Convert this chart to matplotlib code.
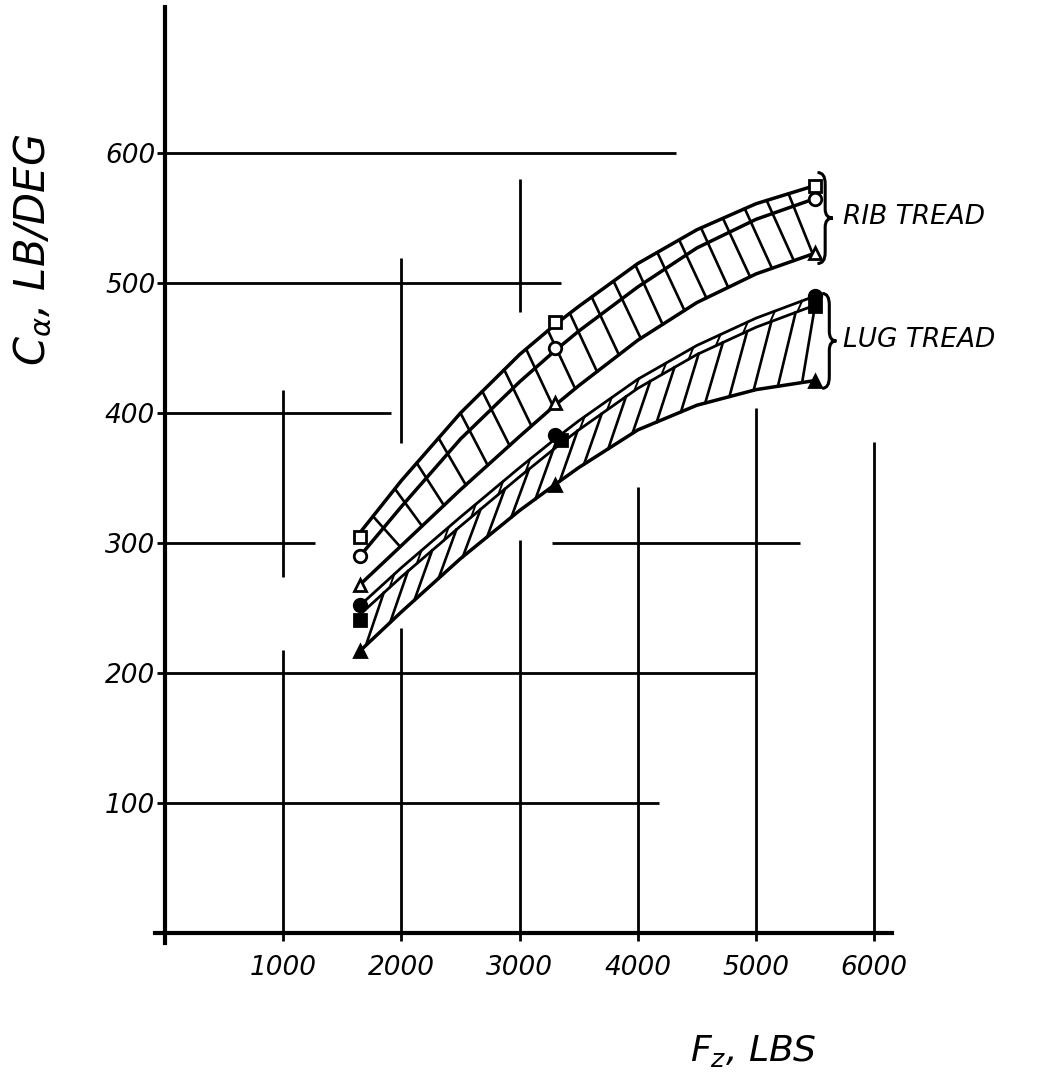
import numpy as np
import matplotlib
matplotlib.use('Agg')
import matplotlib.pyplot as plt
from matplotlib.path import Path
from matplotlib.patches import PathPatch

plt.rcParams['font.family'] = ['DejaVu Sans']
plt.rcParams['mathtext.fontset'] = 'dejavusans'

# marker points (x = vertical load, lb ; y = cornering stiffness, lb/deg)
load_pts = [1650, 3300, 5500]
rib_square = [305, 470, 575]
rib_circle = [290, 450, 565]
rib_triangle = [268, 408, 523]
lug_load_sq = [1650, 3350, 5500]
lug_square = [241, 379, 482]
lug_circle = [252, 383, 490]
lug_triangle = [217, 345, 425]

# band boundaries
curve_x = [1650, 2000, 2500, 3000, 3300, 3500, 4000, 4500, 5000, 5500]
rib_upper = [308, 348, 400, 445, 468, 482, 515, 541, 561, 575]
rib_mid = [290, 328, 380, 424, 448, 463, 497, 527, 549, 565]
rib_lower = [268, 298, 341, 382, 406, 421, 456, 485, 507, 523]
lug_upper = [252, 281, 320, 358, 380, 394, 426, 452, 473, 490]
lug_upper2 = [245, 274, 313, 351, 373, 387, 419, 445, 466, 483]
lug_lower = [217, 247, 288, 325, 345, 358, 387, 406, 418, 425]

xticks = [1000, 2000, 3000, 4000, 5000, 6000]
yticks = [100, 200, 300, 400, 500, 600]

# partial hand-drawn grid segments: (value, start, end)
h_segments = [(600, 0, 4320), (500, 0, 3350), (400, 0, 1910), (300, 0, 1270),
              (300, 3270, 5370), (200, 0, 5000), (100, 0, 4180)]
v_segments = [(1000, 274, 418), (1000, 0, 218), (2000, 377, 519), (2000, 0, 235),
              (3000, 478, 580), (3000, 0, 302), (4000, 0, 343), (5000, 0, 404),
              (6000, 0, 378)]

LW_AX = 3.0
LW_GRID = 2.0
LW_CURVE = 2.5
LW_HATCH = 1.9

fig = plt.figure(figsize=(10.48, 10.79), dpi=100)
ax = fig.add_axes([0.1574, 0.1353, 0.6937, 0.8578])
ax.set_xlim(0, 6150)
ax.set_ylim(0, 712)

for s in ['top', 'right']:
    ax.spines[s].set_visible(False)
ax.spines['left'].set_linewidth(LW_AX)
ax.spines['bottom'].set_linewidth(LW_AX)
ax.spines['left'].set_bounds(-8, 712)
ax.spines['bottom'].set_bounds(-80, 6150)

ax.set_xticks(xticks)
ax.set_xticklabels([str(v) for v in xticks], fontsize=19, style='italic')
ax.set_yticks(yticks)
ax.set_yticklabels([str(v) for v in yticks], fontsize=19, style='italic')
ax.tick_params(axis='x', length=6, width=2, pad=10)
ax.tick_params(axis='y', length=6, width=2, pad=1)

for y, a, b in h_segments:
    ax.hlines(y, a, b, color='black', lw=LW_GRID)
for x, a, b in v_segments:
    ax.vlines(x, a, b, color='black', lw=LW_GRID)

# band outlines
for ys in [rib_upper, rib_mid, rib_lower, lug_lower]:
    ax.plot(curve_x, ys, color='black', lw=LW_CURVE, solid_capstyle='round',
            solid_joinstyle='round')
for ys in [lug_upper, lug_upper2]:
    ax.plot(curve_x, ys, color='black', lw=2.0, solid_capstyle='round',
            solid_joinstyle='round')

# rib tread hatch: lines from the upper edge down to the lower edge
for x0 in np.arange(1760, 5400, 185):
    x1 = min(x0 + 230, 5480)
    ax.plot([x0, x1], [np.interp(x0, curve_x, rib_upper), np.interp(x1, curve_x, rib_lower)],
            color='black', lw=LW_HATCH)

# lug tread hatch: steep lines leaning right
for x0 in np.arange(1700, 5400, 205):
    x1 = min(x0 + 150, 5500)
    ax.plot([x0, x1], [np.interp(x0, curve_x, lug_lower), np.interp(x1, curve_x, lug_upper2)],
            color='black', lw=LW_HATCH)
for x0 in np.arange(1900, 5400, 230):
    ax.plot([x0, x0 + 40], [np.interp(x0, curve_x, lug_upper2), np.interp(x0 + 40, curve_x, lug_upper)],
            color='black', lw=1.4)

# markers
mk = dict(color='black', ms=9, mew=2, ls='none', clip_on=False, zorder=5)
ax.plot(load_pts, rib_square, marker='s', mfc='white', **mk)
ax.plot(load_pts, rib_circle, marker='o', mfc='white', **mk)
ax.plot(load_pts, rib_triangle, marker='^', mfc='white', **mk)
ax.plot(lug_load_sq, lug_square, marker='s', mfc='black', **mk)
ax.plot(load_pts, lug_circle, marker='o', mfc='black', **mk)
ax.plot(load_pts, lug_triangle, marker='^', mfc='black', **mk)


def brace(x, y0, y1, w):
    h = y1 - y0
    ym = (y0 + y1) / 2
    verts = [(x, y1), (x + w / 2, y1), (x + w / 2, y1 - 0.12 * h),
             (x + w / 2, ym + 0.1 * h),
             (x + w / 2, ym), (x + w, ym),
             (x + w / 2, ym), (x + w / 2, ym - 0.1 * h),
             (x + w / 2, y0 + 0.12 * h),
             (x + w / 2, y0), (x, y0)]
    codes = [Path.MOVETO, Path.CURVE3, Path.CURVE3, Path.LINETO,
             Path.CURVE3, Path.CURVE3, Path.CURVE3, Path.CURVE3,
             Path.LINETO, Path.CURVE3, Path.CURVE3]
    ax.add_patch(PathPatch(Path(verts, codes), fill=False, lw=2.2, clip_on=False))


brace(5520, rib_triangle[-1] - 8, rib_square[-1] + 10, 130)
brace(5560, lug_triangle[-1] - 6, lug_circle[-1] + 2, 120)

ax.text(5736, 551, 'RIB TREAD', fontsize=19, style='italic', va='center', ha='left')
ax.text(5736, 456, 'LUG TREAD', fontsize=19, style='italic', va='center', ha='left')

ax.set_ylabel(r'$C_{\alpha}$, LB/DEG', fontsize=30, style='italic')
ax.yaxis.set_label_coords(-0.152, 0.738)
ax.set_xlabel(r'$F_{z}$, LBS', fontsize=26, style='italic')
ax.xaxis.set_label_coords(0.81, -0.108)

fig.savefig('out.png', dpi=100, facecolor='white')
